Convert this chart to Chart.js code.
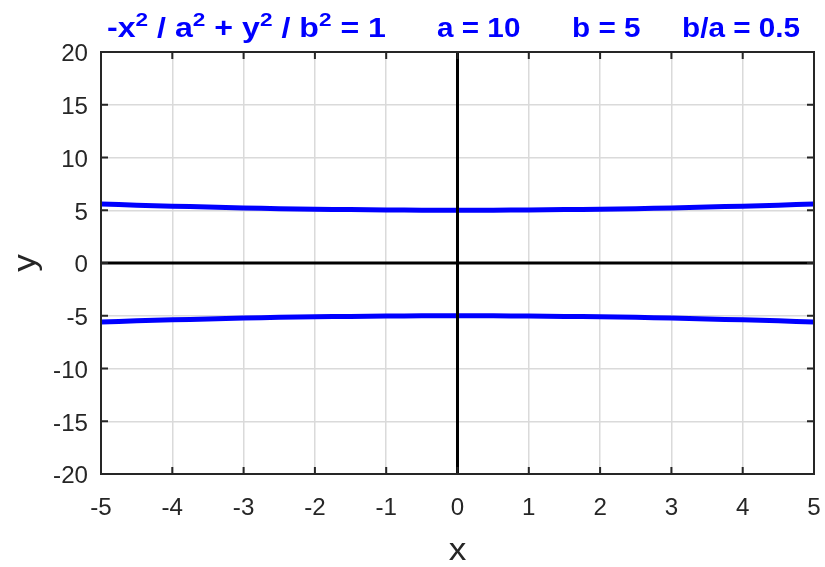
<!DOCTYPE html>
<html>
<head>
<meta charset="utf-8">
<script src="https://cdn.jsdelivr.net/npm/chart.js@4.4.1/dist/chart.umd.min.js"></script>
<style>
  html, body { margin: 0; padding: 0; background: #ffffff; }
  #wrap { width: 825px; height: 567px; }
</style>
</head>
<body>
<div id="wrap"><canvas id="c" width="825" height="567"></canvas></div>
<script>
// Hyperbola -x^2/a^2 + y^2/b^2 = 1 with a = 10, b = 5, sampled on x in [-5, 5]
const xValues = [-5, -4.5, -4, -3.5, -3, -2.5, -2, -1.5, -1, -0.5, 0, 0.5, 1, 1.5, 2, 2.5, 3, 3.5, 4, 4.5, 5];
const upperY  = [5.59, 5.48, 5.39, 5.30, 5.22, 5.15, 5.10, 5.06, 5.02, 5.01, 5.00, 5.01, 5.02, 5.06, 5.10, 5.15, 5.22, 5.30, 5.39, 5.48, 5.59];
const lowerY  = [-5.59, -5.48, -5.39, -5.30, -5.22, -5.15, -5.10, -5.06, -5.02, -5.01, -5.00, -5.01, -5.02, -5.06, -5.10, -5.15, -5.22, -5.30, -5.39, -5.48, -5.59];
const xTicks = [-5, -4, -3, -2, -1, 0, 1, 2, 3, 4, 5];
const yTicks = [-20, -15, -10, -5, 0, 5, 10, 15, 20];
const xLabel = 'x';
const yLabel = 'y';
// Title: equation pieces (sup = superscript), followed by parameter captions
const titleEquation = [
  { t: '-x' }, { t: '2', sup: true }, { t: ' / a' }, { t: '2', sup: true },
  { t: ' + y' }, { t: '2', sup: true }, { t: ' / b' }, { t: '2', sup: true }, { t: ' = 1' }
];
const titleParams = ['a = 10', 'b = 5', 'b/a = 0.5'];

const FONT = '"Liberation Sans", Arial, Helvetica, sans-serif';
const INK = '#262626';

// draws text with a horizontal stretch factor, returns the drawn width
function wideText(ctx, text, x, y, align, sx) {
  const w = ctx.measureText(text).width * sx;
  const left = align === 'right' ? x - w : align === 'center' ? x - w / 2 : x;
  ctx.save();
  ctx.translate(left, y);
  ctx.scale(sx, 1);
  ctx.textAlign = 'left';
  ctx.fillText(text, 0, 0);
  ctx.restore();
  return w;
}

const decor = {
  id: 'decor',
  afterDatasetsDraw(chart) {
    const { ctx, chartArea: a, scales: { x, y } } = chart;
    ctx.save();

    // axes through the origin
    ctx.strokeStyle = '#000000';
    ctx.lineWidth = 3;
    const x0 = x.getPixelForValue(0), y0 = y.getPixelForValue(0);
    ctx.beginPath();
    ctx.moveTo(x0, a.top); ctx.lineTo(x0, a.bottom);
    ctx.moveTo(a.left, y0); ctx.lineTo(a.right, y0);
    ctx.stroke();

    // frame with inward ticks on all sides
    ctx.strokeStyle = INK;
    ctx.lineWidth = 2;
    ctx.strokeRect(a.left, a.top, a.right - a.left, a.bottom - a.top);
    ctx.beginPath();
    xTicks.forEach(v => {
      const p = x.getPixelForValue(v);
      ctx.moveTo(p, a.bottom); ctx.lineTo(p, a.bottom - 7);
      ctx.moveTo(p, a.top); ctx.lineTo(p, a.top + 7);
    });
    yTicks.forEach(v => {
      const p = y.getPixelForValue(v);
      ctx.moveTo(a.left, p); ctx.lineTo(a.left + 7, p);
      ctx.moveTo(a.right, p); ctx.lineTo(a.right - 7, p);
    });
    ctx.stroke();

    // tick labels
    ctx.fillStyle = INK;
    ctx.font = '23px ' + FONT;
    ctx.textBaseline = 'middle';
    yTicks.forEach(v => wideText(ctx, String(v), a.left - 13, y.getPixelForValue(v) + 3, 'right', 1.05));
    ctx.textBaseline = 'alphabetic';
    xTicks.forEach(v => wideText(ctx, String(v), x.getPixelForValue(v), a.bottom + 41, 'center', 1.05));

    // axis titles
    ctx.font = '32px ' + FONT;
    wideText(ctx, xLabel, (a.left + a.right) / 2, a.bottom + 86, 'center', 1.1);
    ctx.save();
    ctx.translate(35, (a.top + a.bottom) / 2);
    ctx.rotate(-Math.PI / 2);
    wideText(ctx, yLabel, 0, 0, 'center', 1.1);
    ctx.restore();

    // title: equation spread over [eqLeft, eqRight], captions at fixed starts
    ctx.fillStyle = '#0000ff';
    const eqLeft = 107, eqRight = 386, ty = 37;
    const supFont = 'bold 19px ' + FONT, mainFont = 'bold 27px ' + FONT;
    let natural = 0;
    titleEquation.forEach(s => { ctx.font = s.sup ? supFont : mainFont; natural += ctx.measureText(s.t).width; });
    const sx = (eqRight - eqLeft) / natural;
    let tx = eqLeft;
    titleEquation.forEach(s => {
      ctx.font = s.sup ? supFont : mainFont;
      tx += wideText(ctx, s.t, tx, s.sup ? ty - 11 : ty, 'left', sx);
    });
    ctx.font = mainFont;
    const starts = [437, 572, 682];
    titleParams.forEach((t, i) => wideText(ctx, t, starts[i], ty, 'left', 1.1));

    ctx.restore();
  }
};

const toPoints = ys => xValues.map((xv, i) => ({ x: xv, y: ys[i] }));

new Chart(document.getElementById('c'), {
  type: 'line',
  data: {
    datasets: [
      { data: toPoints(upperY), borderColor: '#0000ff', borderWidth: 5, pointRadius: 0, tension: 0.3, fill: false },
      { data: toPoints(lowerY), borderColor: '#0000ff', borderWidth: 5, pointRadius: 0, tension: 0.3, fill: false }
    ]
  },
  options: {
    responsive: false,
    animation: false,
    devicePixelRatio: 1,
    layout: { padding: { top: 52, right: 11, left: 0, bottom: 0 } },
    plugins: { legend: { display: false }, title: { display: false }, tooltip: { enabled: false } },
    scales: {
      x: {
        type: 'linear', min: -5, max: 5,
        ticks: { display: false, stepSize: 1 },
        grid: { color: '#dadada', lineWidth: 1.5, drawTicks: false },
        border: { display: false },
        afterFit: s => { s.height = 93; }
      },
      y: {
        type: 'linear', min: -20, max: 20,
        ticks: { display: false, stepSize: 5 },
        grid: { color: '#dadada', lineWidth: 1.5, drawTicks: false },
        border: { display: false },
        afterFit: s => { s.width = 101; }
      }
    }
  },
  plugins: [decor]
});
</script>
</body>
</html>
